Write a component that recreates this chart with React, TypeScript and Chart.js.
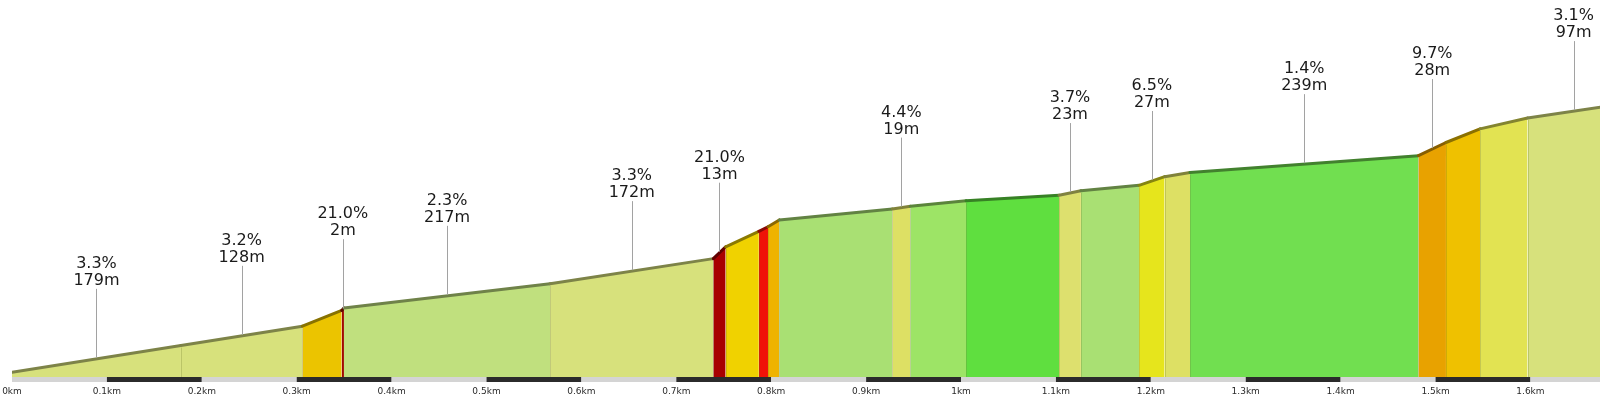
import React, { useEffect, useRef } from "react";
import { Chart, registerables } from "chart.js";

Chart.register(...registerables);

// Breakpoints of the profile (distance in km) and the elevation there (m, relative)
const BREAK_KM = [
  0, 0.178, 0.306, 0.3474, 0.3498, 0.567, 0.739, 0.752, 0.787, 0.7966, 0.8085,
  0.9276, 0.9466, 1.0053, 1.1033, 1.1263, 1.1876, 1.2146, 1.2413, 1.482, 1.511,
  1.5469, 1.597, 1.694,
];
const ELEV_M = [
  1.05, 6.92, 11.16, 14.62, 15.16, 20.5, 26.0, 28.6, 32.0, 33.0, 34.5, 36.9,
  37.5, 38.7, 39.9, 40.9, 42.1, 44.0, 44.9, 48.6, 51.5, 54.5, 56.9, 59.9,
];
// Fill colour of each segment (between consecutive breakpoints)
const SEGMENT_COLORS = [
  "#d7e17c", "#d7e17c", "#ebc400", "#a00a00", "#c0e07e", "#d7e17c", "#a80000",
  "#f0d200", "#f01208", "#efb300", "#a9e073", "#dde064", "#9de466", "#5fdf3f",
  "#dde06e", "#a9e073", "#e6e51c", "#dde064", "#71df50", "#e8a200", "#efc100",
  "#e2e352", "#d7e17c",
];
// Labelled segments: index, grade and length
const LABEL_SEGMENTS = [0, 1, 3, 4, 5, 6, 11, 14, 16, 18, 19, 22];
const LABEL_GRADES = ["3.3%", "3.2%", "21.0%", "2.3%", "3.3%", "21.0%", "4.4%", "3.7%", "6.5%", "1.4%", "9.7%", "3.1%"];
const LABEL_LENGTHS = ["179m", "128m", "2m", "217m", "172m", "13m", "19m", "23m", "27m", "239m", "28m", "97m"];
// Distance axis
const TICK_KM = [0, 0.1, 0.2, 0.3, 0.4, 0.5, 0.6, 0.7, 0.8, 0.9, 1.0, 1.1, 1.2, 1.3, 1.4, 1.5, 1.6];
const TICK_LABELS = [
  "0km", "0.1km", "0.2km", "0.3km", "0.4km", "0.5km", "0.6km", "0.7km", "0.8km",
  "0.9km", "1km", "1.1km", "1.2km", "1.3km", "1.4km", "1.5km", "1.6km",
];
const X_MAX = 1.6733;
const Y_MAX = 82.8;

function darken(hex: string, f: number): string {
  const n = parseInt(hex.slice(1), 16);
  const r = Math.round(((n >> 16) & 255) * f);
  const g = Math.round(((n >> 8) & 255) * f);
  const b = Math.round((n & 255) * f);
  return `rgb(${r},${g},${b})`;
}

const FONT = "'DejaVu Sans', Verdana, sans-serif";

const profilePlugin = {
  id: "profileDecor",
  afterDatasetsDraw(chart: any) {
    const ctx = chart.ctx;
    const xs = chart.scales.x;
    const ys = chart.scales.y;
    const area = chart.chartArea;
    const base = ys.getPixelForValue(0);

    // segment separators (skip around very narrow segments)
    ctx.save();
    ctx.beginPath();
    ctx.rect(area.left, 0, area.right - area.left, area.bottom);
    ctx.clip();
    ctx.strokeStyle = "rgba(90,100,30,0.22)";
    ctx.lineWidth = 1;
    for (let i = 1; i < BREAK_KM.length - 1; i++) {
      const wPrev = xs.getPixelForValue(BREAK_KM[i]) - xs.getPixelForValue(BREAK_KM[i - 1]);
      const wNext = xs.getPixelForValue(BREAK_KM[i + 1]) - xs.getPixelForValue(BREAK_KM[i]);
      if (wPrev < 5 || wNext < 5) continue;
      const px = Math.round(xs.getPixelForValue(BREAK_KM[i])) + 0.5;
      const py = ys.getPixelForValue(ELEV_M[i]) + 2;
      ctx.beginPath();
      ctx.moveTo(px, base);
      ctx.lineTo(px, py);
      ctx.stroke();
    }
    ctx.restore();

    // distance bar
    ctx.save();
    const barTop = base;
    const barH = 5;
    for (let i = 0; i < TICK_KM.length; i++) {
      const x0 = xs.getPixelForValue(TICK_KM[i]);
      const x1 = xs.getPixelForValue(i + 1 < TICK_KM.length ? TICK_KM[i + 1] : X_MAX);
      ctx.fillStyle = i % 2 === 0 ? "#d4d4d4" : "#2b2b2b";
      ctx.fillRect(x0, barTop, x1 - x0, barH);
    }
    // tick labels
    ctx.fillStyle = "#2a2a2a";
    ctx.font = `9px ${FONT}`;
    ctx.textAlign = "center";
    ctx.textBaseline = "middle";
    for (let i = 0; i < TICK_KM.length; i++) {
      const x = xs.getPixelForValue(TICK_KM[i]);
      ctx.fillText(TICK_LABELS[i], x, barTop + 15);
    }
    ctx.restore();

    // grade labels with leader lines
    ctx.save();
    ctx.font = `16px ${FONT}`;
    ctx.textAlign = "center";
    ctx.textBaseline = "middle";
    for (let k = 0; k < LABEL_SEGMENTS.length; k++) {
      const s = LABEL_SEGMENTS[k];
      const midKm = (BREAK_KM[s] + BREAK_KM[s + 1]) / 2;
      const midEl = (ELEV_M[s] + ELEV_M[s + 1]) / 2;
      const px = xs.getPixelForValue(midKm);
      const py = ys.getPixelForValue(midEl);
      ctx.strokeStyle = "#a2a2a2";
      ctx.lineWidth = 1;
      ctx.beginPath();
      ctx.moveTo(Math.round(px) + 0.5, py - 70);
      ctx.lineTo(Math.round(px) + 0.5, py - 1);
      ctx.stroke();
      ctx.fillStyle = "#1a1a1a";
      ctx.fillText(LABEL_GRADES[k], px, py - 95);
      ctx.fillText(LABEL_LENGTHS[k], px, py - 78);
    }
    ctx.restore();
  },
};

export default function App() {
  const canvasRef = useRef<HTMLCanvasElement | null>(null);

  useEffect(() => {
    if (!canvasRef.current) return;
    const datasets = SEGMENT_COLORS.map((color, i) => ({
      type: "line" as const,
      data: [
        { x: BREAK_KM[i], y: ELEV_M[i] },
        { x: BREAK_KM[i + 1], y: ELEV_M[i + 1] },
      ],
      backgroundColor: color,
      borderColor: darken(color, 0.58),
      borderWidth: 3,
      borderCapStyle: "round" as const,
      fill: "origin",
      pointRadius: 0,
      tension: 0,
      order: SEGMENT_COLORS.length - i,
    }));
    const chart = new Chart(canvasRef.current, {
      type: "line",
      data: { datasets },
      options: {
        animation: false,
        responsive: true,
        maintainAspectRatio: false,
        layout: { padding: { left: 12, right: 0, top: 0, bottom: 24 } },
        plugins: { legend: { display: false }, tooltip: { enabled: false } },
        events: [],
        scales: {
          x: { type: "linear", min: 0, max: X_MAX, display: false },
          y: { type: "linear", min: 0, max: Y_MAX, display: false },
        },
      },
      plugins: [profilePlugin],
    });
    return () => chart.destroy();
  }, []);

  return (
    <div style={{ position: "absolute", left: 0, top: 0, width: "1600px", height: "401px", background: "#fff" }}>
      <canvas ref={canvasRef} />
    </div>
  );
}
